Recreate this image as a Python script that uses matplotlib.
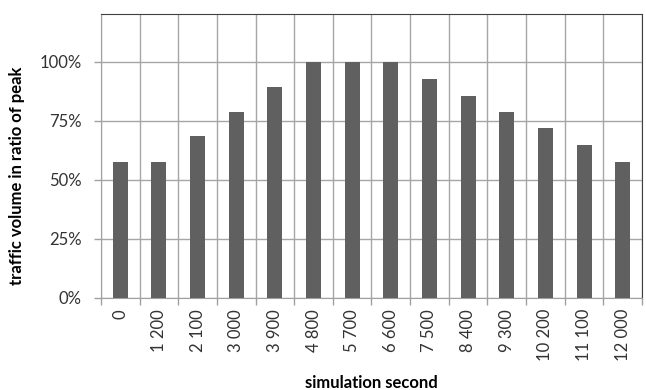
import numpy as np
import matplotlib
matplotlib.use('Agg')
import matplotlib.pyplot as plt
from matplotlib.ticker import FixedLocator, PercentFormatter

plt.rcParams['font.family'] = ['Lato', 'DejaVu Sans']

seconds = ['0', '1 200', '2 100', '3 000', '3 900', '4 800', '5 700',
           '6 600', '7 500', '8 400', '9 300', '10 200', '11 100', '12 000']
ratio = [57.8, 57.8, 68.6, 78.8, 89.5, 100, 100, 100, 92.9, 85.6, 78.8, 72.0, 64.7, 57.8]

fig = plt.figure(figsize=(6.46, 3.9), dpi=100)
ax = fig.add_axes([101 / 646, 1 - 298 / 390, 541 / 646, 284 / 390])

x = np.arange(len(seconds))
ax.bar(x, ratio, width=0.39, color='#606060', zorder=3)

ax.set_xlim(-0.5, len(seconds) - 0.5)
ax.set_ylim(0, 120.3)
ax.set_yticks([0, 25, 50, 75, 100])
ax.yaxis.set_major_formatter(PercentFormatter(decimals=0))
ax.set_xticks(x)
ax.set_xticklabels(seconds, rotation=90)
ax.xaxis.set_minor_locator(FixedLocator(np.arange(-0.5, len(seconds), 1)))

ax.tick_params(axis='x', which='major', length=0, pad=8, labelsize=12, colors='#333333')
ax.tick_params(axis='x', which='minor', length=5, width=1, color='#a0a0a0')
ax.tick_params(axis='y', length=5, width=1, color='#a0a0a0', pad=9, labelsize=12, labelcolor='#333333')

ax.grid(True, axis='y', which='major', color='#a6a6a6', linewidth=1, zorder=0)
ax.grid(True, axis='x', which='minor', color='#a6a6a6', linewidth=1, zorder=0)
ax.grid(False, axis='x', which='major')
ax.set_axisbelow(True)

for side in ['left', 'bottom']:
    ax.spines[side].set_color('#a0a0a0')
for side in ['top', 'right']:
    ax.spines[side].set_color('#404040')

ax.set_xlabel('simulation second', fontweight='bold', fontsize=12, labelpad=10)
ax.set_ylabel('traffic volume in ratio of peak', fontweight='bold', fontsize=12, labelpad=4)
ax.yaxis.set_label_coords(-0.14, 0.43)

fig.savefig('out.png', dpi=100)
